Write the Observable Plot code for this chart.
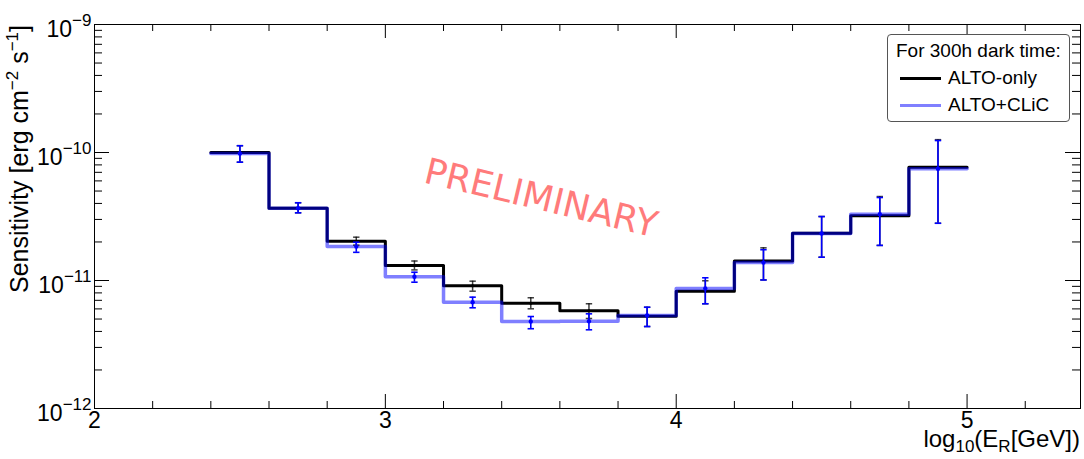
<!DOCTYPE html>
<html>
<head>
<meta charset="utf-8">
<script src="https://cdn.jsdelivr.net/npm/d3@7"></script>
<script src="https://cdn.jsdelivr.net/npm/@observablehq/plot@0.6"></script>
<style>
  html, body { margin: 0; padding: 0; background: #fff; }
  #wrap { position: relative; width: 1084px; height: 459px; font-family: "Liberation Sans", Arial, sans-serif; }
  #legend {
    position: absolute; left: 887px; top: 34px; width: 183px; height: 88px;
    border: 1px solid #555; border-radius: 4px; background: #fff; box-sizing: border-box;
    font-family: "Liberation Sans", Arial, sans-serif; font-size: 19px; color: #000;
  }
  #legend .title { position: absolute; left: 8px; top: 5px; white-space: nowrap; }
  #legend .row { position: absolute; left: 0; white-space: nowrap; }
  #legend .swatch { position: absolute; left: 12px; width: 41px; }
  #legend .lab { position: absolute; left: 60px; }
</style>
</head>
<body>
<div id="wrap"></div>
<script>
// ---- data ----
const binCenters = [2.5, 2.7, 2.9, 3.1, 3.3, 3.5, 3.7, 3.9, 4.1, 4.3, 4.5, 4.7, 4.9];
const binEdges   = [2.4, 2.6, 2.8, 3.0, 3.2, 3.4, 3.6, 3.8, 4.0, 4.2, 4.4, 4.6, 4.8, 5.0];

const altoOnly    = [1.00e-10, 3.67e-11, 2.03e-11, 1.31e-11, 9.09e-12, 6.65e-12, 5.80e-12, 5.26e-12, 8.25e-12, 1.42e-11, 2.34e-11, 3.20e-11, 7.68e-11];
const altoOnlyLo  = [8.40e-11, 3.38e-11, 1.89e-11, 1.21e-11, 8.25e-12, 6.01e-12, 5.05e-12, 4.37e-12, 6.58e-12, 1.01e-11, 1.52e-11, 1.88e-11, 2.80e-11];
const altoOnlyHi  = [1.13e-10, 4.05e-11, 2.18e-11, 1.42e-11, 9.88e-12, 7.33e-12, 6.58e-12, 6.18e-12, 9.95e-12, 1.80e-11, 3.16e-11, 4.53e-11, 1.26e-10];

const altoClic    = [9.82e-11, 3.67e-11, 1.84e-11, 1.07e-11, 6.77e-12, 4.78e-12, 4.81e-12, 5.33e-12, 8.66e-12, 1.38e-11, 2.33e-11, 3.30e-11, 7.46e-11];
const altoClicLo  = [8.40e-11, 3.38e-11, 1.66e-11, 9.70e-12, 6.12e-12, 4.20e-12, 4.12e-12, 4.37e-12, 6.58e-12, 1.01e-11, 1.52e-11, 1.88e-11, 2.80e-11];
const altoClicHi  = [1.13e-10, 4.05e-11, 1.99e-11, 1.16e-11, 7.41e-12, 5.23e-12, 5.49e-12, 6.18e-12, 1.05e-11, 1.74e-11, 3.16e-11, 4.45e-11, 1.24e-10];

const yMajorTicks = [1e-12, 1e-11, 1e-10, 1e-9];
const xMajorTicks = [2, 3, 4, 5];
const xMinorTicks = [2.2, 2.4, 2.6, 2.8, 3.2, 3.4, 3.6, 3.8, 4.2, 4.4, 4.6, 4.8, 5.2];
const yMinorMultipliers = [2, 3, 4, 5, 6, 7, 8, 9];

const seriesNames = ["ALTO-only", "ALTO+CLiC"];
const legendTitle = "For 300h dark time:";
const watermark = {text: "PRELIMINARY", x: 3.535, y: 4.37e-11};

// ---- layout ----
const W = 1084, H = 459, ML = 94, MR = 4, MT = 24, MB = 51;
const PW = W - ML - MR, PH = H - MT - MB;

const yMinorTicks = [];
for (const d of [1e-12, 1e-11, 1e-10]) for (const m of yMinorMultipliers) yMinorTicks.push(+(m * d).toPrecision(3));

const stepRows = (vals) => binEdges.map((e, i) => ({x: e, y: vals[Math.min(i, vals.length - 1)]}));
const errRows = (v, lo, hi) => binCenters.map((c, i) => ({x: c, v: v[i], lo: lo[i], hi: hi[i]}));

const blackRows = errRows(altoOnly, altoOnlyLo, altoOnlyHi);
const blueRows = errRows(altoClic, altoClicLo, altoClicHi);

const capSymbol = {
  draw(ctx, size) {
    const r = Math.sqrt(size / Math.PI);
    ctx.moveTo(-r, 0); ctx.lineTo(r, 0);
  }
};

const chart = Plot.plot({
  width: W, height: H,
  marginLeft: ML, marginRight: MR, marginTop: MT, marginBottom: MB,
  style: {fontFamily: "'Liberation Sans', Arial, sans-serif", background: "#fff", color: "#000"},
  x: {domain: [2, 5.39]},
  y: {type: "log", domain: [1e-12, 1e-9]},
  marks: [
    // inward ticks on all four sides
    Plot.tickY(yMajorTicks, {y: d => d, insetRight: PW - 15, stroke: "#000"}),
    Plot.tickY(yMajorTicks, {y: d => d, insetLeft: PW - 15, stroke: "#000"}),
    Plot.tickY(yMinorTicks, {y: d => d, insetRight: PW - 8, stroke: "#000"}),
    Plot.tickY(yMinorTicks, {y: d => d, insetLeft: PW - 8, stroke: "#000"}),
    Plot.tickX(xMajorTicks, {x: d => d, insetTop: PH - 14, stroke: "#000"}),
    Plot.tickX(xMajorTicks, {x: d => d, insetBottom: PH - 14, stroke: "#000"}),
    Plot.tickX(xMinorTicks, {x: d => d, insetTop: PH - 7, stroke: "#000"}),
    Plot.tickX(xMinorTicks, {x: d => d, insetBottom: PH - 7, stroke: "#000"}),
    Plot.axisY(yMajorTicks, {tickSize: 0, tickPadding: 3, fontSize: 23, label: null,
      tickFormat: d => "10^" + Math.round(Math.log10(d))}),
    Plot.axisX(xMajorTicks, {tickSize: 0, tickPadding: 3, fontSize: 23, label: null, tickFormat: d => String(d)}),
    Plot.frame({stroke: "#000", strokeWidth: 1}),
    // watermark
    Plot.text([watermark], {x: "x", y: "y", text: "text", rotate: 13.4, fill: "#ff7b7b",
      fontSize: 36, fontFamily: "'Comic Sans MS', 'DejaVu Sans', sans-serif", ariaLabel: "watermark"}),
    // step histograms
    Plot.line(stepRows(altoOnly), {x: "x", y: "y", curve: "step-after", stroke: "#000", strokeWidth: 3}),
    Plot.line(stepRows(altoClic), {x: "x", y: "y", curve: "step-after", stroke: "#0000ff", strokeOpacity: 0.5, strokeWidth: 3.5}),
    // error bars
    Plot.ruleX(blackRows, {x: "x", y1: "lo", y2: "hi", stroke: "#000", strokeWidth: 1.5, strokeOpacity: 0.75}),
    Plot.dot(blackRows, {x: "x", y: "lo", symbol: capSymbol, r: 3.2, stroke: "#000", strokeWidth: 1.5, strokeOpacity: 0.75}),
    Plot.dot(blackRows, {x: "x", y: "hi", symbol: capSymbol, r: 3.2, stroke: "#000", strokeWidth: 1.5, strokeOpacity: 0.75}),
    Plot.dot(blackRows, {x: "x", y: "v", r: 1.5, fill: "#000"}),
    Plot.ruleX(blueRows, {x: "x", y1: "lo", y2: "hi", stroke: "#0000ff", strokeWidth: 1.6}),
    Plot.dot(blueRows, {x: "x", y: "lo", symbol: capSymbol, r: 3.2, stroke: "#0000ff", strokeWidth: 1.6}),
    Plot.dot(blueRows, {x: "x", y: "hi", symbol: capSymbol, r: 3.2, stroke: "#0000ff", strokeWidth: 1.6}),
    Plot.dot(blueRows, {x: "x", y: "v", r: 2.2, fill: "#0000ff"})
  ]
});

const wrap = document.getElementById("wrap");
wrap.appendChild(chart);
const svg = d3.select(chart);

// superscripted y tick labels
svg.selectAll('g[aria-label="y-axis tick label"] text').each(function () {
  const t = d3.select(this);
  const [base, exp] = t.text().split("^");
  t.text(null);
  t.append("tspan").attr("dy", 5.5).text(base);
  t.append("tspan").attr("dy", -11).attr("font-size", 17).text(exp.replace("-", "\u2212"));
});

svg.selectAll('g[aria-label="watermark"] text').style("letter-spacing", "3px");

// y title
const yt = svg.append("text")
  .attr("transform", "translate(28,25) rotate(-90)")
  .attr("text-anchor", "end")
  .attr("font-size", 25)
  .attr("fill", "#000");
yt.append("tspan").text("Sensitivity [erg cm");
yt.append("tspan").attr("dy", -10).attr("font-size", 17).text("\u22122");
yt.append("tspan").attr("dy", 10).text(" s");
yt.append("tspan").attr("dy", -10).attr("font-size", 17).text("\u22121");
yt.append("tspan").attr("dy", 10).text("]");

// x title
const xt = svg.append("text")
  .attr("x", 1080).attr("y", 447)
  .attr("text-anchor", "end")
  .attr("font-size", 24)
  .attr("fill", "#000");
xt.append("tspan").text("log");
xt.append("tspan").attr("dy", 5).attr("font-size", 17).text("10");
xt.append("tspan").attr("dy", -5).text("(E");
xt.append("tspan").attr("dy", 5).attr("font-size", 17).text("R");
xt.append("tspan").attr("dy", -5).text("[GeV])");

// legend
const lg = document.createElement("div");
lg.id = "legend";
lg.innerHTML = `<div class="title">${legendTitle}</div>
  <div class="row" style="top:32px;width:100%;height:24px;"><div class="swatch" style="top:10px;height:3px;background:#000"></div><div class="lab" style="top:0">${seriesNames[0]}</div></div>
  <div class="row" style="top:59px;width:100%;height:24px;"><div class="swatch" style="top:10px;height:3px;background:#8080ff"></div><div class="lab" style="top:0">${seriesNames[1]}</div></div>`;
wrap.appendChild(lg);
</script>
</body>
</html>
